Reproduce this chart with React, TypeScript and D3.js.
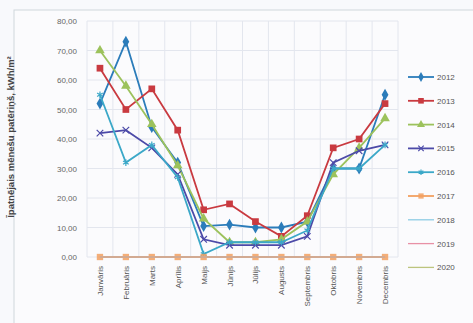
import { useEffect, useRef } from 'react';
import * as d3 from 'd3';

const months = [
  'Janvāris', 'Februāris', 'Marts', 'Aprīlis', 'Maijs', 'Jūnijs',
  'Jūlijs', 'Augusts', 'Septembris', 'Oktobris', 'Novembris', 'Decembris',
];

const years = ['2012', '2013', '2014', '2015', '2016', '2017', '2018', '2019', '2020'];

const v2012 = [52, 73, 44, 32, 10.5, 11, 10, 10, 12, 30, 30, 55];
const v2013 = [64, 50, 57, 43, 16, 18, 12, 7, 14, 37, 40, 52];
const v2014 = [70, 58, 45, 31, 13, 5, 5, 6, 12, 28, 37, 47];
const v2015 = [42, 43, 37, 28, 6, 4, 4, 4, 7, 32, 36, 38];
const v2016 = [55, 32, 38, 27, 1, 5, 5, 5, 9, 30, 30, 38];
const v2017 = [0, 0, 0, 0, 0, 0, 0, 0, 0, 0, 0, 0];
const v2018 = [0, 0, 0, 0, 0, 0, 0, 0, 0, 0, 0, 0];
const v2019 = [0, 0, 0, 0, 0, 0, 0, 0, 0, 0, 0, 0];
const v2020 = [0, 0, 0, 0, 0, 0, 0, 0, 0, 0, 0, 0];

const yTicks = [0, 10, 20, 30, 40, 50, 60, 70, 80];

const seriesValues = [v2012, v2013, v2014, v2015, v2016, v2017, v2018, v2019, v2020];
const seriesColors = ['#2b7cba', '#c93a40', '#9cc25c', '#4c4aa8', '#3ba8c8', '#f2a060', '#8dcbe4', '#e890a6', '#bcc47e'];
const seriesMarkers = ['diamond', 'square', 'triangle', 'cross', 'star', 'circle', 'none', 'none', 'none'];

export default function App() {
  const svgRef = useRef<SVGSVGElement>(null);

  useEffect(() => {
    if (!svgRef.current) return;
    const width = 473;
    const height = 323;
    const svg = d3.select(svgRef.current);
    svg.selectAll('*').remove();

    svg.append('rect').attr('width', width).attr('height', height).attr('fill', '#f8f9fc');
    // outer frame
    svg.append('rect')
      .attr('x', 14).attr('y', 10).attr('width', 470).attr('height', 320)
      .attr('fill', '#fbfbfd').attr('stroke', '#cfd8dc').attr('stroke-width', 1);

    const x = d3.scalePoint<string>().domain(months).range([87, 398]).padding(0.5);
    const y = d3.scaleLinear().domain([0, 80]).range([257, 21]);
    const step = x.step();

    const g = svg.append('g');

    // gridlines
    g.selectAll('.hgrid')
      .data(yTicks)
      .join('line')
      .attr('x1', 87).attr('x2', 398)
      .attr('y1', (d) => y(d)).attr('y2', (d) => y(d))
      .attr('stroke', '#e3e6ee').attr('stroke-width', 1);
    g.selectAll('.vgrid')
      .data(d3.range(months.length + 1))
      .join('line')
      .attr('x1', (i) => 87 + i * step).attr('x2', (i) => 87 + i * step)
      .attr('y1', y(80)).attr('y2', y(0))
      .attr('stroke', '#e3e6ee').attr('stroke-width', 1);

    // y tick labels
    g.selectAll('.ytick')
      .data(yTicks)
      .join('text')
      .attr('x', 77).attr('y', (d) => y(d) + 3)
      .attr('text-anchor', 'end')
      .attr('font-size', 8)
      .attr('fill', '#666')
      .text((d) => d3.format('.2f')(d).replace('.', ','));

    // x labels
    g.selectAll('.xtick')
      .data(months)
      .join('text')
      .attr('transform', (d) => `translate(${(x(d) ?? 0) + 3},${y(0) + 9}) rotate(-90)`)
      .attr('text-anchor', 'end')
      .attr('font-size', 8)
      .attr('fill', '#555')
      .text((d) => d);

    // y title
    svg.append('text')
      .attr('transform', `translate(14,${(y(80) + y(0)) / 2 - 2}) rotate(-90)`)
      .attr('text-anchor', 'middle')
      .attr('font-size', 9.5)
      .attr('font-weight', 'bold')
      .attr('fill', '#444')
      .text('Īpatnējais mēnešu patēriņš, kWh/m²');

    const line = d3.line<number>()
      .x((_, i) => x(months[i]) ?? 0)
      .y((d) => y(d));

    const drawMarker = (sel: d3.Selection<SVGGElement, unknown, null, undefined>, kind: string, color: string, k = 1) => {
      if (kind === 'diamond') {
        sel.append('path').attr('d', d3.symbol(d3.symbolDiamond, 40 * k)()).attr('fill', color);
      } else if (kind === 'square') {
        sel.append('path').attr('d', d3.symbol(d3.symbolSquare, 45 * k)()).attr('fill', color);
      } else if (kind === 'triangle') {
        sel.append('path').attr('d', d3.symbol(d3.symbolTriangle, 40 * k)()).attr('fill', color);
      } else if (kind === 'cross') {
        sel.append('path').attr('d', d3.symbol(d3.symbolX, 30 * k)()).attr('fill', 'none').attr('stroke', color).attr('stroke-width', 1.2);
      } else if (kind === 'star') {
        sel.append('path').attr('d', d3.symbol(d3.symbolAsterisk, 30 * k)()).attr('fill', 'none').attr('stroke', color).attr('stroke-width', 1.2);
      } else if (kind === 'circle') {
        sel.append('path').attr('d', d3.symbol(d3.symbolSquare, 40 * k)()).attr('fill', color).attr('opacity', 0.85);
      }
    };

    seriesValues.forEach((vals, si) => {
      const color = seriesColors[si];
      g.append('path')
        .datum(vals)
        .attr('d', line)
        .attr('fill', 'none')
        .attr('stroke', color)
        .attr('stroke-width', si === 8 ? 1.2 : 1.8);
      vals.forEach((v, i) => {
        const m = g.append('g').attr('transform', `translate(${x(months[i])},${y(v)})`);
        drawMarker(m, seriesMarkers[si], color);
      });
    });

    // legend
    const legend = svg.append('g');
    years.forEach((yr, i) => {
      const ly = 77 + i * 23.8;
      const color = seriesColors[i];
      legend.append('line')
        .attr('x1', 408).attr('x2', 434).attr('y1', ly).attr('y2', ly)
        .attr('stroke', color).attr('stroke-width', i >= 6 ? 1.3 : 1.8);
      const m = legend.append('g').attr('transform', `translate(421,${ly})`);
      drawMarker(m, seriesMarkers[i], color, 0.7);
      legend.append('text')
        .attr('x', 437).attr('y', ly + 3)
        .attr('font-size', 8)
        .attr('fill', '#555')
        .text(yr);
    });
  }, []);

  return (
    <div style={{ position: 'absolute', left: 0, top: 0 }}>
      <svg ref={svgRef} width={473} height={323} style={{ display: 'block', fontFamily: 'Liberation Sans, Arial, sans-serif' }} />
    </div>
  );
}
